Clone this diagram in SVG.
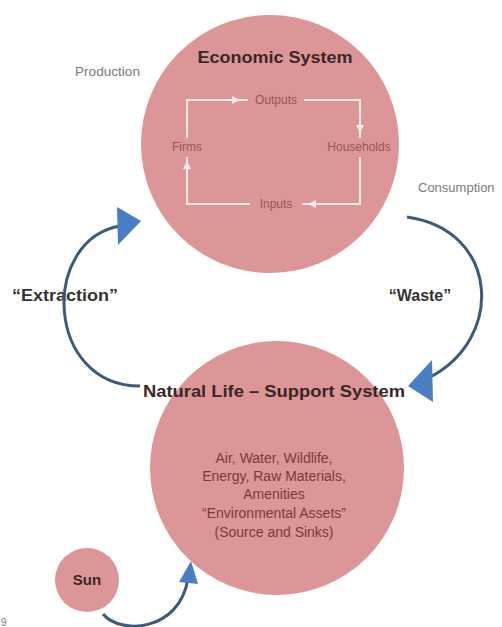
<svg xmlns="http://www.w3.org/2000/svg" width="502" height="627" viewBox="0 0 502 627">
<style>
.circ{fill:#dc9697}
.title{font-family:"Liberation Sans",Arial,sans-serif;font-weight:bold;fill:#3a2626;text-anchor:middle}
.inner{font-family:"Liberation Sans",Arial,sans-serif;font-size:12px;fill:#955656;text-anchor:middle}
.side{font-family:"Liberation Sans",Arial,sans-serif;font-size:13px;fill:#7a7a7a}
.body{font-family:"Liberation Sans",Arial,sans-serif;font-size:14px;fill:#7a3a3a;text-anchor:middle}
.flow{font-family:"Liberation Sans",Arial,sans-serif;font-size:16px;font-weight:bold;fill:#333;text-anchor:middle}
.arc{fill:none;stroke:#3d5a7a;stroke-width:3}
.head{fill:#4a7ec2}
.wl{stroke:#fbeaea;stroke-width:2;fill:none}
.wh{fill:#fbeaea}
</style>
<rect width="502" height="627" fill="#ffffff"/>
<g id="economic-system">
  <circle class="circ" cx="270" cy="144" r="129"/>
  <text class="title" x="275" y="63" font-size="16" textLength="155" lengthAdjust="spacingAndGlyphs">Economic System</text>
  <g id="inner-cycle">
    <polyline class="wl" points="248,100 187,100 187,138"/>
    <polyline class="wl" points="304,100 360,100 360,138"/>
    <polyline class="wl" points="360,157 360,204 302,204"/>
    <polyline class="wl" points="250,204 187,204 187,157"/>
    <polygon class="wh" points="240,100 232,96 232,104"/>
    <polygon class="wh" points="360,133 356,125 364,125"/>
    <polygon class="wh" points="308,204 316,200 316,208"/>
    <polygon class="wh" points="187,161 183,169 191,169"/>
  </g>
  <text class="inner" x="276" y="104">Outputs</text>
  <text class="inner" x="187" y="151">Firms</text>
  <text class="inner" x="359" y="151">Households</text>
  <text class="inner" x="276" y="208">Inputs</text>
</g>
<g id="natural-system">
  <circle class="circ" cx="277" cy="468" r="127"/>
  <text class="title" x="274" y="397" font-size="16" textLength="262" lengthAdjust="spacingAndGlyphs">Natural Life – Support System</text>
  <text class="body" x="274" y="463">Air, Water, Wildlife,</text>
  <text class="body" x="274" y="481">Energy, Raw Materials,</text>
  <text class="body" x="274" y="499">Amenities</text>
  <text class="body" x="274" y="518">“Environmental Assets”</text>
  <text class="body" x="274" y="537">(Source and Sinks)</text>
</g>
<g id="sun">
  <circle class="circ" cx="87" cy="580" r="32"/>
  <text class="title" x="87" y="585" font-size="15">Sun</text>
</g>
<g id="labels">
  <text class="side" x="75" y="76" textLength="65" lengthAdjust="spacingAndGlyphs">Production</text>
  <text class="side" x="418" y="192">Consumption</text>
  <text class="flow" x="65" y="301" textLength="106" lengthAdjust="spacingAndGlyphs">“Extraction”</text>
  <text class="flow" x="420" y="301">“Waste”</text>
  <text x="1" y="626" font-family="Liberation Sans,Arial,sans-serif" font-size="10" fill="#777">9</text>
</g>
<g id="connectors">
  <path class="arc" d="M140,386 C45,386 40,240 120,226"/>
  <polygon class="head" points="117,207 141,221 118,245"/>
  <path class="arc" d="M407,217 C500,230 505,340 428,378"/>
  <polygon class="head" points="432,360 408,386 433,402"/>
  <path class="arc" d="M103,614 C120,635 180,632 188,578"/>
  <polygon class="head" points="191,561 179,582 198,584"/>
</g>
</svg>
